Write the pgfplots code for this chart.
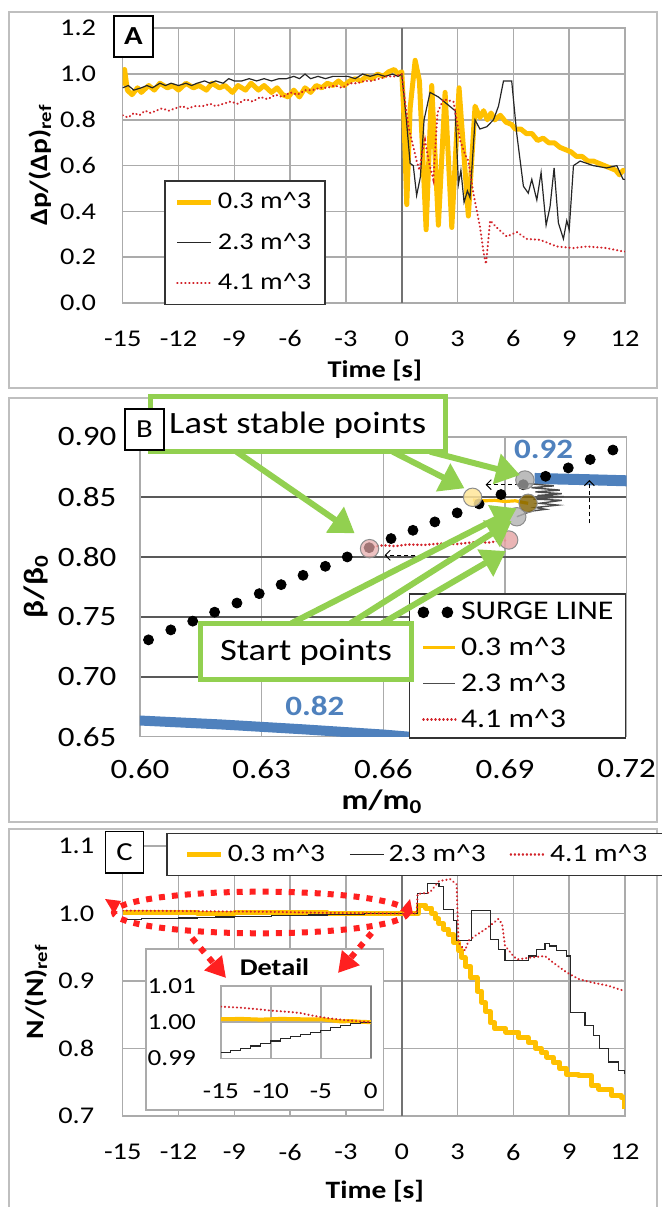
\documentclass[border=0pt]{standalone}
\usepackage{fontspec}
\setmainfont{Carlito}[FakeStretch=1.18]
\usepackage{pgfplots}
\pgfplotsset{compat=1.18}
\usetikzlibrary{arrows.meta}

\definecolor{cgold}{HTML}{FFC000}
\definecolor{cred}{HTML}{D2232A}
\definecolor{cblk}{HTML}{262626}
\definecolor{cblue}{HTML}{4F81BD}
\definecolor{cgreen}{HTML}{92D050}
\definecolor{cgrid}{HTML}{ABABAB}
\definecolor{cframe}{HTML}{BFBFBF}
\definecolor{cann}{HTML}{FF2020}
\definecolor{cpaley}{HTML}{FFE699}
\definecolor{cdarkg}{HTML}{7F6000}
\definecolor{cpink}{HTML}{E6A8A8}

\newcommand{\fs}[1]{\fontsize{#1}{#1}\selectfont}
\newcommand{\mc}{m\textasciicircum 3}

\tikzset{px/.style={x=0.5pt,y=-0.5pt,yshift=603.5pt}}

\pgfplotsset{
  panel/.style={
    scale only axis, anchor=south west,
    grid=major,
    major grid style={line width=0.8pt,color=cgrid},
    axis line style={line width=0.8pt,color=cgrid},
    major tick length=0pt,
    /pgf/number format/assume math mode=true,
    legend cell align=left,
  },
  pgold/.style={color=cgold,line width=2.5pt,line join=round,no marks},
  pblk/.style={color=cblk,line width=0.6pt,no marks},
  pred/.style={color=cred,line width=1.1pt,line cap=round,dash pattern=on 0.1pt off 1.9pt,no marks},
}

\begin{document}
\begin{tikzpicture}
\useasboundingbox (0,0) rectangle (331pt,603.5pt);

% panel frames
\begin{scope}[px]
\draw[cframe,line width=0.8pt] (9,12) rectangle (657,388);
\draw[cframe,line width=0.8pt] (9,398) rectangle (657,822);
\draw[cframe,line width=0.8pt] (9,829) rectangle (657,1215);
\end{scope}

% ---------------- A ----------------
\begin{axis}[panel, at={(61.35pt,452pt)}, width=251.15pt, height=137.35pt,
  xmin=-15, xmax=12, ymin=0, ymax=1.2,
  xtick={-15,-12,...,12}, ytick={0,0.2,0.4,0.6,0.8,1.0,1.2},
  tick label style={font=\fs{12}},
  yticklabel style={/pgf/number format/fixed,/pgf/number format/fixed zerofill,/pgf/number format/precision=1,xshift=-9.8pt},
  xticklabel style={yshift=-10.3pt},
  extra x ticks={0}, extra x tick labels={},
  extra x tick style={major grid style={color=black!55,line width=1.2pt}},
  xlabel={Time [s]},
  ylabel={Δp/(Δp)\textsubscript{ref}},
  xlabel style={at={(axis description cs:0.502,-0.244)},anchor=center,font=\bfseries\fs{12}},
  ylabel style={at={(axis description cs:-0.1646,0.502)},anchor=center,font=\bfseries\fs{12.5}},
  legend style={at={(0.0822,0.4478)},anchor=north west,draw=black!80,line width=0.8pt,
    font=\fs{12},nodes={inner sep=2pt},row sep=6.5pt,inner xsep=5pt,inner ysep=4pt},
]
\addplot[pgold] coordinates {
(-15,0.95) (-14.9,1.02) (-14.75,0.93) (-14.5,0.91) (-14.2,0.94) (-14,0.92) (-13.6,0.95) (-13.3,0.93)
(-13,0.96) (-12.6,0.94) (-12.3,0.95) (-12,0.93) (-11.6,0.96) (-11.2,0.94) (-10.9,0.95) (-10.5,0.93)
(-10.2,0.96) (-9.8,0.94) (-9.5,0.95) (-9.1,0.92) (-8.8,0.95) (-8.4,0.93) (-8.1,0.96) (-7.7,0.93)
(-7.4,0.95) (-7,0.92) (-6.7,0.94) (-6.4,0.91) (-6.1,0.90) (-5.8,0.93) (-5.5,0.90) (-5.2,0.94)
(-4.9,0.92) (-4.6,0.95) (-4.3,0.94) (-4,0.96) (-3.7,0.95) (-3.4,0.97) (-3.1,0.95) (-2.8,0.97)
(-2.5,0.98) (-2.2,0.97) (-1.9,0.99) (-1.6,0.98) (-1.3,1.0) (-1.0,0.99) (-0.7,1.01) (-0.4,1.02)
(-0.2,1.0) (0,1.01) (0.1,0.85) (0.27,0.43) (0.45,0.85) (0.72,1.06) (0.95,0.97) (1.31,0.32)
(1.61,0.95) (1.97,0.34) (2.33,0.92) (2.69,0.33) (3.08,0.94) (3.58,0.38) (3.94,0.86) (4.2,0.81)
(4.4,0.84) (4.6,0.80) (4.8,0.83) (5.0,0.80) (5.3,0.82) (5.6,0.79) (5.9,0.78) (6.1,0.76) (6.4,0.76)
(6.7,0.74) (7.0,0.74) (7.3,0.71) (7.6,0.72) (7.9,0.70) (8.2,0.70) (8.5,0.68) (8.8,0.67) (9.1,0.66)
(9.4,0.64) (9.7,0.64) (10.0,0.62) (10.3,0.62) (10.6,0.61) (10.9,0.60) (11.2,0.59) (11.5,0.58)
(11.7,0.56) (11.9,0.58) (12,0.57)};
\addlegendentry{0.3 \mc}
\addplot[pblk] coordinates {
(-15,0.94) (-14.7,0.95) (-14.4,0.93) (-14,0.94) (-13.7,0.95) (-13.4,0.94) (-13,0.96) (-12.7,0.95)
(-12.4,0.96) (-12,0.95) (-11.6,0.96) (-11.3,0.95) (-11,0.96) (-10.6,0.97) (-10.3,0.96) (-10,0.97)
(-9.6,0.96) (-9.3,0.98) (-9,0.97) (-8.6,0.97) (-8.2,0.98) (-7.8,0.97) (-7.4,0.98) (-7,0.97)
(-6.6,0.98) (-6.2,0.98) (-5.8,0.99) (-5.5,0.98) (-5.2,1.0) (-4.9,0.98) (-4.5,0.99) (-4.1,0.98)
(-3.7,0.99) (-3.3,0.99) (-2.9,0.99) (-2.5,0.98) (-2.1,1.0) (-1.7,0.99) (-1.3,1.0) (-0.9,0.99)
(-0.5,1.0) (-0.2,0.99) (0,1.0) (0.25,0.8) (0.45,0.61) (0.62,0.60) (0.8,0.47) (1.0,0.55) (1.2,0.8)
(1.52,0.92) (1.97,0.90) (2.42,0.87) (2.87,0.84) (3.05,0.52) (3.18,0.58) (3.35,0.44) (3.53,0.49)
(3.67,0.46) (3.94,0.80) (4.2,0.76) (4.57,0.77) (4.93,0.80) (5.2,0.86) (5.47,0.97) (5.91,0.97)
(6.18,0.74) (6.54,0.51) (6.8,0.48) (6.99,0.54) (7.26,0.45) (7.49,0.57) (7.76,0.34) (7.97,0.42)
(8.19,0.59) (8.42,0.35) (8.69,0.28) (8.87,0.36) (9.0,0.32) (9.23,0.60) (9.59,0.62) (10.3,0.60)
(11.0,0.59) (11.56,0.60) (11.9,0.54) (12,0.54)};
\addlegendentry{2.3 \mc}
\addplot[pred] coordinates {
(-15,0.82) (-14.7,0.81) (-14.4,0.83) (-14.1,0.82) (-13.8,0.84) (-13.5,0.83) (-13.2,0.84) (-12.9,0.85)
(-12.5,0.84) (-12.2,0.85) (-11.8,0.86) (-11.5,0.85) (-11.1,0.86) (-10.7,0.86) (-10.3,0.87) (-10,0.86)
(-9.6,0.87) (-9.2,0.88) (-8.8,0.87) (-8.4,0.89) (-8,0.88) (-7.6,0.90) (-7.2,0.89) (-6.8,0.91)
(-6.4,0.90) (-6,0.92) (-5.6,0.91) (-5.2,0.93) (-4.8,0.93) (-4.4,0.94) (-4,0.94) (-3.6,0.95)
(-3.2,0.94) (-2.8,0.96) (-2.4,0.96) (-2,0.97) (-1.6,0.97) (-1.2,0.98) (-0.8,0.99) (-0.4,0.99)
(0,1.0) (0.08,0.94) (0.36,0.77) (0.63,0.68) (0.8,0.62) (0.95,0.58) (1.1,0.66) (1.25,0.71) (1.5,0.6)
(1.7,0.54) (1.92,0.83) (2.24,0.89) (2.78,0.88) (3.14,0.71) (3.4,0.65) (3.58,0.62) (3.85,0.48)
(4.21,0.33) (4.4,0.22) (4.53,0.17) (4.75,0.36) (5.1,0.33) (5.65,0.29) (6.18,0.31) (6.72,0.28)
(7.44,0.276) (8.33,0.247) (9.23,0.24) (9.95,0.247) (11.0,0.24) (11.9,0.225) (12,0.225)};
\addlegendentry{4.1 \mc}
\end{axis}

% ---------------- B ----------------
\begin{axis}[panel, at={(70pt,235.15pt)}, width=243.35pt, height=150pt,
  xmin=0.6, xmax=0.72, ymin=0.65, ymax=0.9,
  xtick={0.60,0.63,0.66,0.69,0.72}, ytick={0.65,0.70,0.75,0.80,0.85,0.90},
  tick label style={font=\fs{14},/pgf/number format/fixed,/pgf/number format/fixed zerofill,/pgf/number format/precision=2},
  xticklabel style={yshift=-7.8pt}, yticklabel style={xshift=-8.3pt},
  y grid style={color=black!65},
  x axis line style={color=black!65},
  xlabel={m/m\textsubscript{0}}, ylabel={β/β\textsubscript{0}},
  xlabel style={at={(axis description cs:0.497,-0.2167)},anchor=center,font=\bfseries\fs{14}},
  ylabel style={at={(axis description cs:-0.2137,0.5)},anchor=center,font=\bfseries\fs{14}},
  legend style={at={(0.5523,0.478)},anchor=north west,draw=black!80,line width=0.8pt,
    font=\fs{13.5},nodes={inner sep=2pt},row sep=3.3pt,inner xsep=4pt,inner ysep=2pt},
  legend image code/.code={\draw[#1] (0pt,0pt) -- (16pt,0pt);},
]
\addplot[cblue,line width=5.5pt,forget plot] coordinates {(0.6973,0.8652) (0.7100,0.8642) (0.7206,0.8632)};
\addplot[cblue,line width=5pt,forget plot] coordinates {(0.598,0.6638) (0.62,0.6602) (0.64,0.6562) (0.66,0.6518) (0.68,0.6462) (0.70,0.6400)};
\addplot[only marks,mark=*,mark size=2.5pt,black,
  legend image code/.code={\fill[black] (0pt,0pt) circle (2.5pt); \fill[black] (12pt,0pt) circle (2.5pt);}]
coordinates {
(0.6021,0.7307) (0.6076,0.7390) (0.6130,0.7463) (0.6184,0.7538) (0.6239,0.7614) (0.6294,0.7692)
(0.6348,0.7767) (0.6402,0.7845) (0.6457,0.7920) (0.6511,0.7998) (0.6565,0.8075) (0.6619,0.8151)
(0.6673,0.8220) (0.6727,0.8290) (0.6782,0.8365) (0.6836,0.8440) (0.6890,0.8518) (0.6945,0.8600)
(0.7000,0.8670) (0.7056,0.8740) (0.7110,0.8810) (0.7166,0.8889)};
\addlegendentry{SURGE LINE}
\addplot[cgold,line width=1.6pt,line join=round] coordinates {
(0.6821,0.8472) (0.6850,0.8466) (0.6875,0.8470) (0.6900,0.8460) (0.6925,0.8466) (0.6945,0.8452) (0.6957,0.8445)};
\addlegendentry{0.3 \mc}
\addplot[black!70,line width=0.7pt] coordinates {
(0.6929,0.8333) (0.6965,0.8380) (0.7000,0.8395) (0.6975,0.8410) (0.7030,0.8430) (0.6985,0.8445)
(0.7040,0.8470) (0.6970,0.8480) (0.7045,0.8500) (0.6980,0.8510) (0.7040,0.8525) (0.6975,0.8540)
(0.7035,0.8555) (0.6965,0.8575) (0.7020,0.8590) (0.6955,0.8610) (0.6949,0.8639)};
\addlegendentry{2.3 \mc}
\addplot[cred,line width=1.3pt,line cap=round,dash pattern=on 0.1pt off 1.9pt] coordinates {
(0.6566,0.8080) (0.6600,0.8095) (0.6630,0.8088) (0.6660,0.8102) (0.6700,0.8098) (0.6740,0.8110)
(0.6780,0.8105) (0.6820,0.8120) (0.6860,0.8118) (0.6890,0.8135) (0.6909,0.8135)};
\addlegendentry{4.1 \mc}
% last stable points
\addplot[forget plot,only marks,mark=*,mark size=4.6pt,mark options={draw=black!45,line width=0.5pt,fill=cpaley,fill opacity=0.85}] coordinates {(0.682,0.8495)};
\addplot[forget plot,only marks,mark=*,mark size=4.6pt,mark options={draw=black!45,line width=0.5pt,fill=black!35,fill opacity=0.75}] coordinates {(0.6949,0.8639)};
\addplot[forget plot,only marks,mark=*,mark size=4.6pt,mark options={draw=black!45,line width=0.5pt,fill=cpink,fill opacity=0.7}] coordinates {(0.6566,0.8067)};
% start points
\addplot[forget plot,only marks,mark=*,mark size=4.6pt,mark options={draw=black!45,line width=0.5pt,fill=black!30,fill opacity=0.8}] coordinates {(0.6929,0.8333)};
\addplot[forget plot,only marks,mark=*,mark size=4.6pt,mark options={draw=black!45,line width=0.5pt,fill=cdarkg,fill opacity=0.8}] coordinates {(0.6957,0.8445)};
\addplot[forget plot,only marks,mark=*,mark size=4.6pt,mark options={draw=black!45,line width=0.5pt,fill=cpink,fill opacity=0.85}] coordinates {(0.6909,0.8139)};
\draw[black,line width=0.5pt,dash pattern=on 2pt off 1.5pt,-{Straight Barb[length=2.5pt,width=5pt]}] (axis cs:0.6935,0.8600) -- (axis cs:0.6852,0.8600);
\draw[black,line width=0.5pt,dash pattern=on 2pt off 1.5pt,-{Straight Barb[length=2.5pt,width=5pt]}] (axis cs:0.6696,0.8012) -- (axis cs:0.6603,0.8012);
\draw[black,line width=0.5pt,dash pattern=on 2pt off 1.5pt,-{Straight Barb[length=2.5pt,width=5pt]}] (axis cs:0.7108,0.8278) -- (axis cs:0.7108,0.8639);
\node[cblue,font=\bfseries\fs{14}] at (axis cs:0.6995,0.889) {0.92};
\node[cblue,font=\bfseries\fs{14}] at (axis cs:0.6431,0.676) {0.82};
\end{axis}

% ---------------- C ----------------
\begin{axis}[panel, at={(61.35pt,45.5pt)}, width=251.15pt, height=135pt,
  xmin=-15, xmax=12, ymin=0.7, ymax=1.1,
  xtick={-15,-12,...,12}, ytick={0.7,0.8,0.9,1.0,1.1},
  tick label style={font=\fs{12}},
  yticklabel style={/pgf/number format/fixed,/pgf/number format/fixed zerofill,/pgf/number format/precision=1,xshift=-10.7pt},
  xticklabel style={yshift=-10.4pt},
  extra x ticks={0}, extra x tick labels={},
  extra x tick style={major grid style={color=black!55,line width=1.2pt}},
  xlabel={Time [s]},
  ylabel={N/(N)\textsubscript{ref}},
  xlabel style={at={(axis description cs:0.502,-0.28)},anchor=center,font=\bfseries\fs{12.5}},
  ylabel style={at={(axis description cs:-0.1726,0.46)},anchor=center,font=\bfseries\fs{12.5}},
  legend columns=3,
  legend style={at={(0.0862,1.049)},anchor=north west,draw=black!80,line width=0.8pt,
    font=\fs{12.5},nodes={inner sep=2pt},inner xsep=9pt,inner ysep=3.5pt,
    /tikz/every even column/.append style={column sep=10pt}},
]
\addplot[pgold,const plot] coordinates {
(-15,1.0008) (-13,1.0009) (-11,1.0007) (-9,1.0009) (-7,1.0008) (-5,1.0008) (-4,1.0005) (-3,1.0002)
(-2,1.0003) (-1,1.0001) (0,1.0) (0.8,1.0) (0.9,1.012) (1.3,1.008) (1.6,1.0) (1.8,0.992) (2.0,0.985)
(2.25,0.977) (2.5,0.969) (2.8,0.957) (3.05,0.945) (3.2,0.935) (3.4,0.922) (3.7,0.905) (4.05,0.885)
(4.3,0.868) (4.5,0.855) (4.75,0.838) (5.0,0.829) (5.6,0.824) (6.3,0.816) (6.8,0.809) (7.2,0.80)
(7.5,0.794) (7.8,0.787) (8.15,0.779) (8.5,0.77) (8.85,0.762) (9.5,0.76) (10.2,0.745) (10.6,0.74)
(11.3,0.73) (11.8,0.727) (12,0.71)};
\addlegendentry{0.3 \mc}
\addplot[pblk,const plot] coordinates {
(-15,0.9915) (-14,0.9921) (-13,0.9928) (-12,0.9934) (-11,0.9941) (-10,0.9948) (-9,0.9954) (-8,0.9960)
(-7,0.9966) (-6,0.9972) (-5,0.9978) (-4,0.9985) (-3,0.9991) (-2,0.9996) (-1,0.9999) (0,1.0)
(0.85,1.03) (1.4,1.045) (2.0,1.04) (2.25,1.006) (2.8,0.99) (2.95,0.96) (3.75,1.004) (4.75,0.962)
(5.2,0.947) (5.55,0.93) (6.8,0.937) (7.25,0.947) (7.7,0.955) (7.95,0.952) (8.3,0.945) (8.85,0.937)
(9.05,0.853) (9.85,0.834) (10.3,0.819) (10.65,0.80) (11.1,0.78) (11.65,0.767) (12,0.762)};
\addlegendentry{2.3 \mc}
\addplot[pred] coordinates {
(-15,1.0043) (-13,1.0040) (-11,1.0035) (-10,1.0032) (-8,1.0028) (-7,1.0025) (-6,1.0019) (-5,1.0014)
(-4,1.0010) (-3,1.0007) (-2,1.0004) (-1,1.0002) (0,1.0) (0.8,1.0) (0.85,1.029) (1.5,1.031) (2.0,1.048)
(2.6,1.051) (2.95,1.043) (3.05,0.957) (3.4,0.945) (3.6,0.96) (3.95,0.967) (4.4,0.975) (4.75,0.982)
(5.2,0.992) (5.4,0.984) (5.55,0.952) (6.0,0.937) (6.2,0.932) (7.0,0.935) (7.7,0.937) (8.15,0.927)
(8.5,0.92) (8.85,0.913) (9.5,0.903) (10.2,0.898) (11.1,0.893) (12,0.885)};
\addlegendentry{4.1 \mc}
\end{axis}

% inset frame
\begin{scope}[px]
\draw[cgrid,line width=0.8pt,fill=white] (145.7,949.3) rectangle (383.4,1110);
\node[font=\bfseries\fs{12}] at (274.5,966.7) {Detail};
\end{scope}

% ---------------- Detail inset ----------------
\begin{axis}[panel, at={(110.45pt,74.35pt)}, width=74.95pt, height=36.15pt,
  xmin=-15, xmax=0, ymin=0.99, ymax=1.01,
  xtick={-15,-10,-5,0}, ytick={0.99,1.00,1.01},
  tick label style={font=\fs{11.5}},
  yticklabel style={/pgf/number format/fixed,/pgf/number format/fixed zerofill,/pgf/number format/precision=2,xshift=-9pt},
  xticklabel style={yshift=-9.3pt},
  extra x ticks={0}, extra x tick labels={},
  extra x tick style={major grid style={color=black!50,line width=1.2pt}},
]
\addplot[color=cgold,line width=2pt,no marks] coordinates {
(-15,1.0008) (-13,1.0009) (-11,1.0007) (-9,1.0009) (-7,1.0008) (-5,1.0008) (-4,1.0005) (-3,1.0002)
(-2,1.0003) (-1,1.0001) (0,1.0)};
\addplot[pblk,const plot] coordinates {
(-15,0.9915) (-14,0.9921) (-13,0.9928) (-12,0.9934) (-11,0.9941) (-10,0.9948) (-9,0.9954) (-8,0.9960)
(-7,0.9966) (-6,0.9972) (-5,0.9978) (-4,0.9985) (-3,0.9991) (-2,0.9996) (-1,0.9999) (0,1.0)};
\addplot[pred] coordinates {
(-15,1.0043) (-13,1.0040) (-11,1.0035) (-10,1.0032) (-8,1.0028) (-7,1.0025) (-6,1.0019) (-5,1.0014)
(-4,1.0010) (-3,1.0007) (-2,1.0004) (-1,1.0002) (0,1.0)};
\end{axis}

% ---------------- annotations ----------------
\begin{scope}[px]
% green callouts in B
\begin{scope}[cgreen,line width=3pt,-{Triangle[length=12pt,width=15pt]}]
\draw (236.5,451.7) -- (354.7,533.3);
\draw (392.7,451.7) -- (464.5,488.3);
\draw (430,451.7) -- (520,475);
\draw (291.4,623.3) -- (516.7,508.3);
\draw (350.5,623.3) -- (511.7,521);
\draw (382.2,623.3) -- (506,551);
\end{scope}
\draw[cgreen,line width=2.5pt,fill=white] (150,396.7) rectangle (445.5,451.7);
\node[font=\fs{15.5}] at (297.7,425) {Last stable points};
\draw[cgreen,line width=2.5pt,fill=white] (200.6,623.3) rectangle (411.7,680);
\node[font=\fs{15.5}] at (306,652) {Start points};
% panel letters
\node[draw=black,line width=0.8pt,fill=white,minimum width=19.5pt,minimum height=20.5pt,inner sep=0pt,font=\bfseries\fs{13}] at (133.5,36.5) {A};
\node[draw=black,line width=0.8pt,fill=white,minimum width=19.5pt,minimum height=20.5pt,inner sep=0pt,font=\fs{13}] at (144.5,429.5) {B};
\node[draw=black,line width=0.8pt,fill=white,minimum width=19pt,minimum height=20.8pt,inner sep=0pt,font=\fs{13}] at (124.6,852.5) {C};
% red dotted ellipse and arrows in C
\draw[cann,line width=3pt,dash pattern=on 3pt off 3.5pt] (260.75,912.5) ellipse [x radius=73.4pt, y radius=10.4pt];
\fill[cann] (105,899) -- (121,901) -- (114,914) -- cycle;
\fill[cann] (410,899) -- (413,914) -- (400,911) -- cycle;
\draw[cann,line width=3pt,dash pattern=on 3pt off 3.5pt,-{Triangle[length=10pt,width=11pt]}] (192,938) -- (226,978);
\draw[cann,line width=3pt,dash pattern=on 3pt off 3.5pt,-{Triangle[length=10pt,width=11pt]}] (371.6,933) -- (338,973);
\end{scope}
\end{tikzpicture}
\end{document}
